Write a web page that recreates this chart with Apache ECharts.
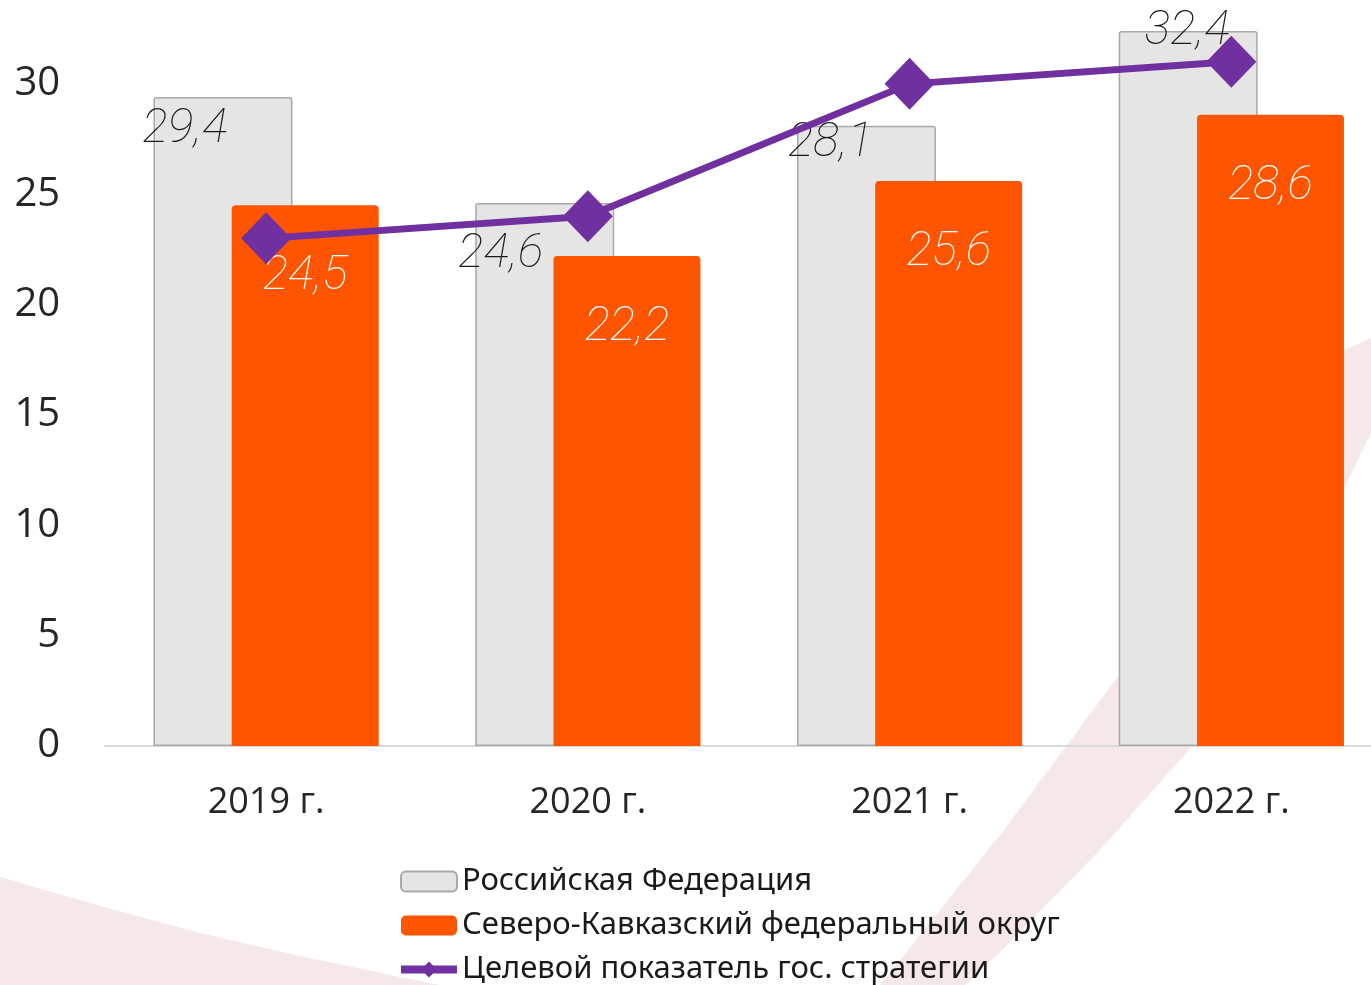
<!DOCTYPE html>
<html>
<head>
<meta charset="utf-8">
<script src="https://cdn.jsdelivr.net/npm/echarts@6/dist/echarts.min.js"></script>
<style>
  html, body { margin: 0; padding: 0; background: #fff; }
  #chart { width: 1371px; height: 985px; }
</style>
</head>
<body>
<div id="chart"></div>
<script>
  const years = ['2019 г.', '2020 г.', '2021 г.', '2022 г.']
  const russia = [29.4, 24.6, 28.1, 32.4]
  const skfo = [24.5, 22.2, 25.6, 28.6]
  const target = [23, 24, 30, 31]
  const names = ['Российская Федерация', 'Северо-Кавказский федеральный округ', 'Целевой показатель гос. стратегии']

  // подписи серых столбцов в оригинале разложены вручную
  const russiaLabelShift = [[-38, 33], [-44, 52], [-36, 18], [-1, 1]]

  const hand = {
    fontFamily: 'Roboto',
    fontStyle: 'italic',
    fontWeight: 100,
    fontSize: 48
  }
  const comma = p => String(p.value).replace('.', ',')

  const chart = echarts.init(document.getElementById('chart'))

  chart.setOption({
    backgroundColor: '#ffffff',
    animation: false,
    graphic: [
      {
        type: 'polygon',
        z: -10,
        silent: true,
        shape: { points: [[0, 877], [100, 906], [200, 933], [300, 956], [400, 977], [440, 985], [0, 985]] },
        style: { fill: '#f6e8e8' }
      },
      {
        type: 'polygon',
        z: -10,
        silent: true,
        shape: {
          points: [[880, 985], [1000, 835], [1117, 678], [1230, 510], [1300, 410], [1340, 352], [1371, 338],
            [1371, 433], [1343, 490], [1270, 615], [1187, 752], [1100, 850], [1000, 952], [965, 985]]
        },
        style: { fill: '#f6e8e8' }
      }
    ],
    grid: {
      left: 105.2,
      top: 0,
      bottom: 239,
      width: 1287,
      containLabel: false,
      outerBoundsMode: 'none'
    },
    legend: {
      orient: 'vertical',
      left: 397,
      top: 866,
      height: 160,
      padding: 0,
      itemWidth: 56,
      itemHeight: 20,
      itemGap: 13,
      data: [
        { name: names[0] },
        { name: names[1] },
        { name: names[2], lineStyle: { width: 8 } }
      ],
      textStyle: {
        fontFamily: 'Noto Sans',
        fontSize: 31,
        color: '#1a1a1a'
      }
    },
    xAxis: {
      type: 'category',
      data: years,
      axisLine: { lineStyle: { color: '#d9d9d9', width: 2 } },
      axisTick: { show: false },
      axisLabel: {
        margin: 39,
        fontFamily: 'Open Sans',
        fontSize: 36,
        color: '#262626'
      }
    },
    yAxis: {
      type: 'value',
      min: 0,
      max: 33.8,
      interval: 5,
      splitLine: { show: false },
      axisLine: { show: false },
      axisTick: { show: false },
      axisLabel: {
        margin: 45,
        padding: [6, 0, 0, 0],
        fontFamily: 'Open Sans',
        fontSize: 40,
        color: '#262626',
        formatter: v => (v % 5 === 0 ? v : '')
      }
    },
    series: [
      {
        name: names[0],
        type: 'bar',
        barWidth: 139,
        barGap: '-43.7%',
        data: russia.map((v, i) => ({ value: v, label: { offset: russiaLabelShift[i] } })),
        itemStyle: {
          color: '#e5e5e5',
          borderColor: '#a9a9a9',
          borderWidth: 1.5,
          borderRadius: [2, 2, 0, 0]
        },
        label: Object.assign({
          show: true,
          position: ['50%', 0],
          align: 'center',
          verticalAlign: 'middle',
          color: '#1a1a1a',
          formatter: comma
        }, hand)
      },
      {
        name: names[1],
        type: 'bar',
        barWidth: 147,
        barGap: '-43.7%',
        data: skfo,
        itemStyle: {
          color: '#ff5500',
          borderRadius: [4, 4, 0, 0]
        },
        label: Object.assign({
          show: true,
          position: ['50%', 72],
          align: 'center',
          verticalAlign: 'middle',
          color: '#ffffff',
          formatter: comma
        }, hand)
      },
      {
        name: names[2],
        type: 'line',
        data: target,
        z: 5,
        symbol: 'diamond',
        symbolSize: [50, 52],
        color: '#7030a0',
        itemStyle: { color: '#7030a0' },
        lineStyle: { color: '#7030a0', width: 7 }
      }
    ]
  })
</script>
</body>
</html>
